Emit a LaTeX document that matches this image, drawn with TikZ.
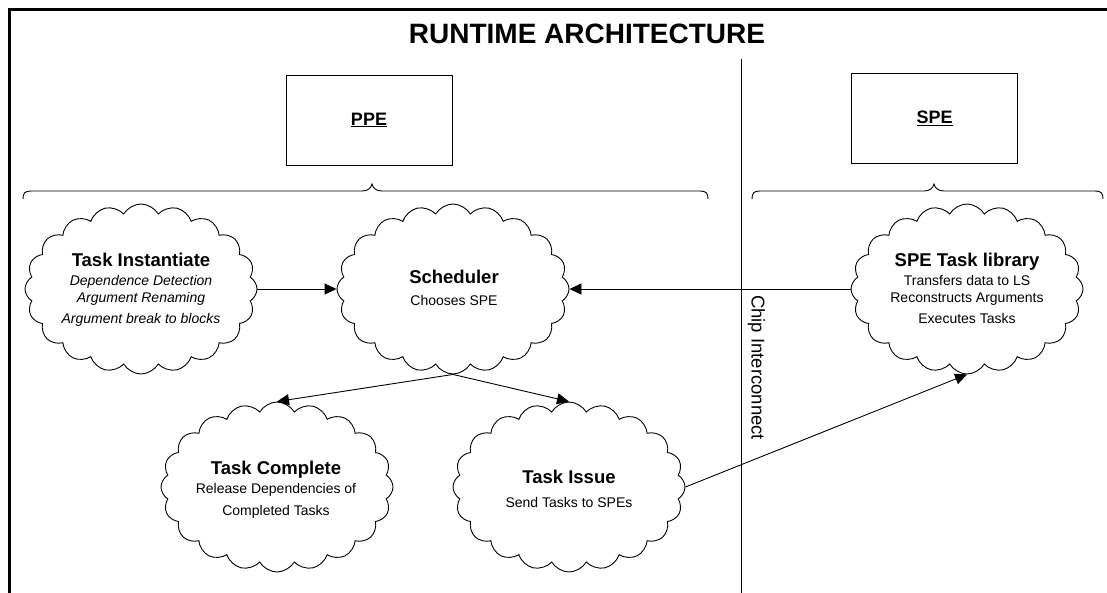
\documentclass[tikz,border=0pt]{standalone}
\usepackage{fontspec}
\setmainfont{Liberation Sans}
\usetikzlibrary{shapes.symbols,arrows.meta}

\begin{document}
\begin{tikzpicture}[x=1pt,y=-1pt,
  puff/.style={cloud, cloud puffs=20, cloud puff arc=120, cloud ignores aspect,
    draw, line width=0.9pt, minimum width=232pt, minimum height=170pt, inner sep=0pt},
  unitbox/.style={draw, line width=1pt, minimum width=166pt, minimum height=90pt, inner sep=0pt,
    font=\fontsize{18}{20}\selectfont\bfseries},
  txtline/.style={anchor=base, inner sep=0pt},
  head/.style={txtline, font=\fontsize{18.5}{20}\selectfont\bfseries},
  sub/.style={txtline, font=\fontsize{14}{16}\selectfont},
  subit/.style={txtline, font=\fontsize{14}{16}\selectfont\itshape},
  link/.style={line width=0.9pt, -{Triangle[length=12pt,width=11pt]}},
  bracepath/.style={line width=0.9pt}
]
\useasboundingbox (0,0) rectangle (1107,592);

% frame
\draw[line width=3pt] (9,600) -- (9,9) -- (1115,9);

% title
\node[font=\fontsize{28}{32}\selectfont\bfseries] (title) at (587,33.5) {RUNTIME ARCHITECTURE};

% processor boxes
\node[unitbox] (ppe) at (369,120) {\underline{PPE}};
\node[unitbox] (spebox) at (934.5,118) {\underline{SPE}};

% braces under the boxes
\draw[bracepath] (23,199) .. controls (23,193) and (25,191) .. (31,191) -- (362,191)
  .. controls (368,191) and (371,188) .. (372,184)
  .. controls (373,188) and (376,191) .. (382,191) -- (700,191)
  .. controls (706,191) and (708,193) .. (708,199);
\draw[bracepath] (752,199) .. controls (752,193) and (754,191) .. (760,191) -- (924,191)
  .. controls (930,191) and (933,188) .. (934,184)
  .. controls (935,188) and (938,191) .. (944,191) -- (1095,191)
  .. controls (1101,191) and (1103,193) .. (1103,199);

% divider between PPE and SPE side
\draw[line width=1pt] (741,59) -- (741,600);
\node[rotate=-90, font=\fontsize{18.5}{20}\selectfont] (chip) at (756.5,367.5) {Chip Interconnect};

% clouds
\node[puff] (ti) at (141,289) {};
\node[puff] (sch) at (453,289) {};
\node[puff] (spe) at (967,289) {};
\node[puff] (tc) at (277,487) {};
\node[puff] (iss) at (569,487) {};

% cloud texts
\node[head] (tiT) at (141,266.5) {Task Instantiate};
\node[subit] (ti1) at (141,285) {Dependence Detection};
\node[subit] (ti2) at (141,302) {Argument Renaming};
\node[subit] (ti3) at (141,323) {Argument break to blocks};

\node[head] (schT) at (454,283.5) {Scheduler};
\node[sub] (sch1) at (454,305) {Chooses SPE};

\node[head] (speT) at (967,266.5) {SPE Task library};
\node[sub] (spe1) at (967,285) {Transfers data to LS};
\node[sub] (spe2) at (967,302) {Reconstructs Arguments};
\node[sub] (spe3) at (967,323) {Executes Tasks};

\node[head] (tcT) at (276,474.5) {Task Complete};
\node[sub] (tc1) at (276,493) {Release Dependencies of};
\node[sub] (tc2) at (276,515) {Completed Tasks};

\node[head] (issT) at (569,483.5) {Task Issue};
\node[sub] (iss1) at (569,507) {Send Tasks to SPEs};

% connectors
\draw[link] (ti.east) -- (sch.west);
\draw[link] (spe.west) -- (sch.east);
\draw[link] (sch.south) -- (tc.north);
\draw[link] (sch.south) -- (iss.north);
\draw[link] (iss.east) -- (spe.south);
\end{tikzpicture}
\end{document}
